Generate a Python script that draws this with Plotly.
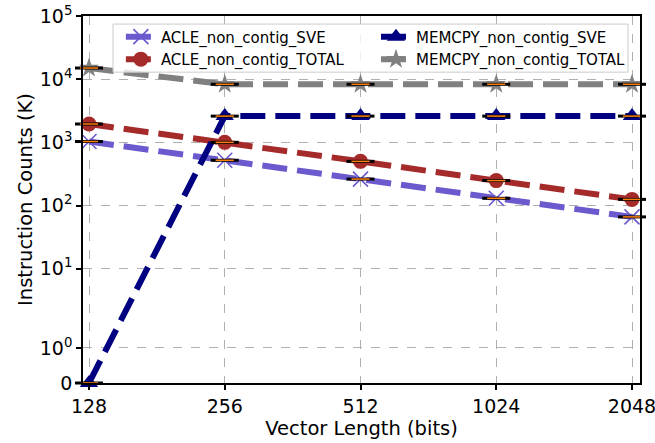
import math
import plotly.graph_objects as go

vector_lengths = [128, 256, 512, 1024, 2048]
tick_labels = ["128", "256", "512", "1024", "2048"]

acle_sve = [1030, 520, 262, 130, 66]
acle_total = [1950, 1000, 500, 248, 125]
memcpy_sve = [0, 2600, 2600, 2600, 2600]
memcpy_total = [15000, 8300, 8300, 8300, 8300]

y_ticks = [0, 1, 10, 100, 1000, 10000, 100000]
y_tick_labels = ["0", "10<sup>0</sup>", "10<sup>1</sup>", "10<sup>2</sup>",
                 "10<sup>3</sup>", "10<sup>4</sup>", "10<sup>5</sup>"]

# matplotlib-style symlog transform (linthresh=2, linscale=1, base 10)
LINTHRESH = 2.0
LINSCALE_ADJ = 1.0 / (1.0 - 1.0 / 10.0)


def symlog(v):
    a = abs(v)
    if a <= LINTHRESH:
        return v * LINSCALE_ADJ
    s = 1 if v > 0 else -1
    return s * LINTHRESH * (LINSCALE_ADJ + math.log10(a / LINTHRESH))


def tr(vals):
    return [symlog(v) for v in vals]


FONT = "DejaVu Sans"
DASH = "25px,10px"

series = [
    ("ACLE_non_contig_SVE", acle_sve, "#6A5ACD", "x-thin", 15, "legend"),
    ("ACLE_non_contig_TOTAL", acle_total, "#A52A2A", "circle", 15, "legend"),
    ("MEMCPY_non_contig_SVE", memcpy_sve, "#000080", "triangle-up", 16, "legend2"),
    ("MEMCPY_non_contig_TOTAL", memcpy_total, "#808080", "star", 15, "legend2"),
]

fig = go.Figure()
for name, vals, color, sym, size, leg in series:
    marker = dict(symbol=sym, size=size, color=color)
    if sym == "x-thin":
        marker["line"] = dict(color=color, width=1.6)
    else:
        marker["line"] = dict(width=0)
    fig.add_trace(go.Scatter(
        x=vector_lengths, y=tr(vals), name=name, mode="lines+markers",
        line=dict(color=color, width=6, dash=DASH),
        marker=marker, legend=leg, cliponaxis=False,
    ))

# collapsed box marks (black box edge + orange median)
for name, vals, color, sym, size, leg in series:
    fig.add_trace(go.Scatter(
        x=vector_lengths, y=tr(vals), mode="markers", showlegend=False,
        hoverinfo="skip", cliponaxis=False,
        marker=dict(symbol="line-ew", size=20, line=dict(color="black", width=3)),
    ))
    fig.add_trace(go.Scatter(
        x=vector_lengths, y=tr(vals), mode="markers", showlegend=False,
        hoverinfo="skip", cliponaxis=False,
        marker=dict(symbol="line-ew", size=13, line=dict(color="#FF7F0E", width=1.5)),
    ))

x_lo = (7 - 6 / 135.75) * math.log10(2)
x_hi = (11 + 8 / 135.75) * math.log10(2)

legend_common = dict(
    orientation="v", yanchor="top", xanchor="left",
    font=dict(family=FONT, size=15, color="black"),
    bgcolor="rgba(0,0,0,0)", borderwidth=0, tracegroupgap=0,
)

fig.update_layout(
    width=655, height=443,
    margin=dict(l=83, r=15, t=16, b=60),
    paper_bgcolor="white", plot_bgcolor="white",
    font=dict(family=FONT, size=19, color="black"),
    showlegend=True,
    legend=dict(x=0.068, y=0.988, **legend_common),
    legend2=dict(x=0.526, y=0.988, **legend_common),
    shapes=[dict(
        type="rect", xref="paper", yref="paper", layer="above",
        x0=0.0539, x1=0.9785, y0=0.847, y1=0.978,
        fillcolor="rgba(255,255,255,0.8)", line=dict(color="#cccccc", width=1),
    )],
    xaxis=dict(
        type="log", range=[x_lo, x_hi], automargin=False,
        tickvals=vector_lengths, ticktext=tick_labels, ticklabeloverflow="allow",
        tickfont=dict(family=FONT, size=19),
        showgrid=True, gridcolor="#b0b0b0", griddash="dash", gridwidth=1,
        showline=True, linecolor="black", linewidth=1.5, mirror=True,
        ticks="outside", ticklen=5, tickcolor="black", tickwidth=1.5,
        zeroline=False,
        title=dict(text="Vector Length (bits)", font=dict(family=FONT, size=19.5), standoff=4),
    ),
    yaxis=dict(
        range=[0, symlog(100000)], automargin=False,
        tickvals=tr(y_ticks), ticktext=y_tick_labels, ticklabeloverflow="allow",
        tickfont=dict(family=FONT, size=19),
        showgrid=True, gridcolor="#b0b0b0", griddash="dash", gridwidth=1,
        showline=True, linecolor="black", linewidth=1.5, mirror=True,
        ticks="outside", ticklen=5, tickcolor="black", tickwidth=1.5,
        zeroline=False,
        title=dict(text="Instruction Counts (K)", font=dict(family=FONT, size=19.5), standoff=2),
    ),
)

fig.write_html(
    "out.html",
    config={"displayModeBar": False},
    post_script="document.body.style.margin='0';document.body.style.padding='0';",
)
